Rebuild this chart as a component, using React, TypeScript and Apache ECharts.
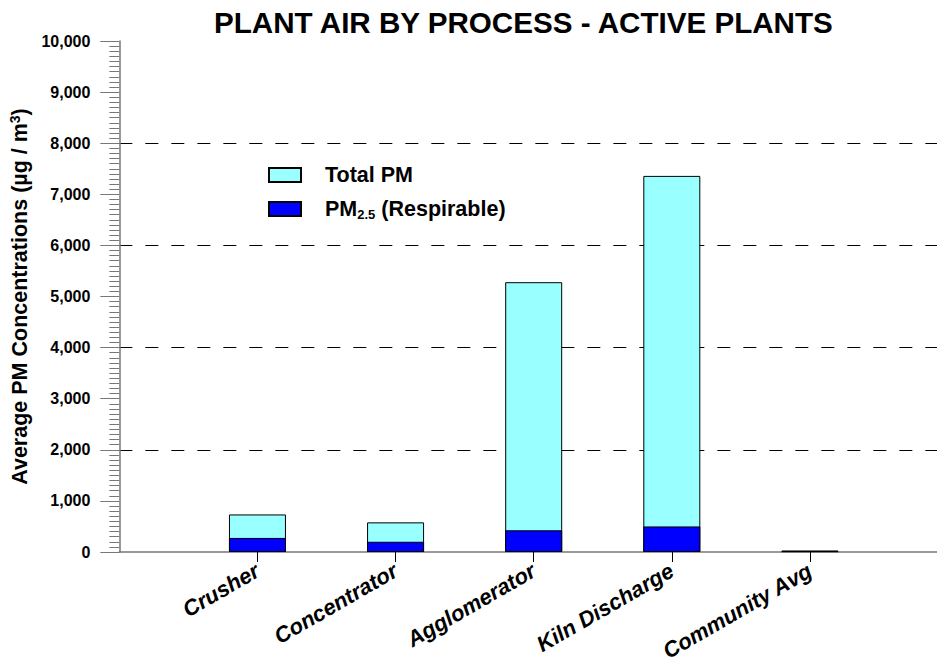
import React, { useEffect, useRef } from 'react';
import * as echarts from 'echarts';

const categories = ['Crusher', 'Concentrator', 'Agglomerator', 'Kiln Discharge', 'Community Avg'];
const categoryPositions = [1, 2, 3, 4, 5];
const totalPM = [735, 580, 5280, 7360, 30];
const pm25 = [275, 200, 425, 500, 15];

const FONT = 'Liberation Sans, Arial, sans-serif';

export default function App() {
  const ref = useRef<HTMLDivElement>(null);
  useEffect(() => {
    document.body.style.margin = '0';
    if (!ref.current) return;
    const chart = echarts.init(ref.current, null, { renderer: 'svg' });
    const pm25Data = categoryPositions.map((p, i) => [p, pm25[i]]);
    const totalData = categoryPositions.map((p, i) => [p, totalPM[i]]);
    const option: any = {
      animation: false,
      backgroundColor: '#fff',
      title: {
        text: 'PLANT AIR BY PROCESS - ACTIVE PLANTS',
        left: 209,
        top: 2,
        textStyle: { fontFamily: FONT, fontWeight: 'bold', fontSize: 29.6, color: '#000' },
      },
      grid: { left: 118, top: 41, right: 0, bottom: 113, containLabel: false },
      legend: {
        orient: 'vertical',
        left: 263,
        top: 159,
        itemWidth: 32,
        itemHeight: 14,
        itemGap: 12,
        icon: 'rect',
        data: ['Total PM', 'PM2.5'],
        formatter: (name: string) =>
          name === 'PM2.5' ? '{sp|}{a|PM}{sub|2.5}{a| (Respirable)}' : '{sp|}{a|Total PM}',
        textStyle: {
          fontFamily: FONT,
          fontWeight: 'bold',
          fontSize: 21.5,
          color: '#000',
          rich: {
            sp: { width: 19 },
            a: { fontFamily: FONT, fontWeight: 'bold', fontSize: 21.5, color: '#000' },
            sub: { fontFamily: FONT, fontWeight: 'bold', fontSize: 13, color: '#000', verticalAlign: 'bottom', padding: [10, 0, 0, 0] },
          },
        },
      },
      xAxis: {
        type: 'value',
        min: 0,
        max: 5.92,
        axisLine: { show: true, lineStyle: { color: '#777', width: 1.5 } },
        axisTick: { show: true, customValues: categoryPositions, length: 10, lineStyle: { color: '#000' } },
        axisLabel: {
          customValues: categoryPositions,
          formatter: (v: number) => categories[Math.round(v) - 1] ?? '',
          rotate: 30,
          margin: 17,
          fontFamily: FONT,
          fontWeight: 'bold',
          fontStyle: 'italic',
          fontSize: 22,
          color: '#000',
        },
        splitLine: { show: false },
      },
      yAxis: [
        {
          type: 'value',
          min: 0,
          max: 10000,
          interval: 1000,
          axisLine: { show: true, lineStyle: { color: '#777', width: 1.5 } },
          axisTick: { show: true, length: 19, lineStyle: { color: '#777' } },
          minorTick: { show: true, splitNumber: 10, length: 10, lineStyle: { color: '#777' } },
          axisLabel: {
            formatter: (v: number) => v.toLocaleString('en-US'),
            margin: 29,
            fontFamily: FONT,
            fontWeight: 'bold',
            fontSize: 16,
            color: '#000',
          },
          splitLine: { show: false },
          name: '{a|Average PM Concentrations (µg / m}{sup|3}{a|)}',
          nameLocation: 'middle',
          nameGap: 83,
          nameTextStyle: {
            rich: {
              a: { fontFamily: FONT, fontWeight: 'bold', fontSize: 21.5, color: '#000' },
              sup: { fontFamily: FONT, fontWeight: 'bold', fontSize: 14, color: '#000', verticalAlign: 'top', padding: [0, 0, 9, 0] },
            },
          },
        },
        {
          type: 'value',
          min: 0,
          max: 10000,
          interval: 2000,
          position: 'left',
          axisLine: { show: false },
          axisTick: { show: false },
          axisLabel: { show: false },
          splitLine: {
            show: true,
            showMinLine: false,
            showMaxLine: false,
            lineStyle: { color: '#000', width: 1.2, type: [13, 13] },
          },
        },
      ],
      series: [
        {
          name: 'Total PM',
          type: 'bar',
          barWidth: 57,
          barGap: '-100%',
          data: totalData,
          itemStyle: { color: '#99ffff', borderColor: '#000', borderWidth: 1 },
        },
        {
          name: 'PM2.5',
          type: 'bar',
          barWidth: 57,
          barGap: '-100%',
          data: pm25Data,
          itemStyle: { color: '#0000ff', borderColor: '#000', borderWidth: 1 },
        },
      ],
    };
    chart.setOption(option);
    return () => chart.dispose();
  }, []);
  return <div ref={ref} style={{ width: 937, height: 665 }} />;
}
